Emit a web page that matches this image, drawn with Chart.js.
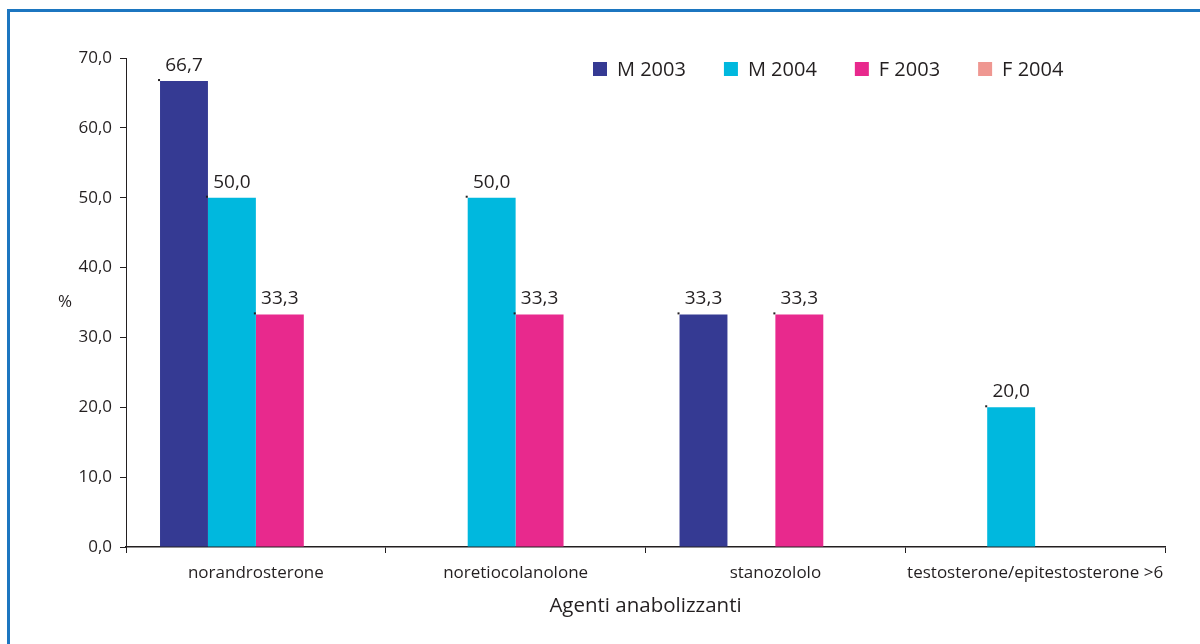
<!DOCTYPE html>
<html>
<head>
<meta charset="utf-8">
<script src="https://cdn.jsdelivr.net/npm/chart.js@4/dist/chart.umd.min.js"></script>
<style>
  html, body { margin: 0; padding: 0; background: #ffffff; overflow: hidden; }
  #wrap { position: relative; width: 1200px; height: 644px; }
  #frame {
    position: absolute; left: 7px; top: 9px; width: 1400px; height: 900px;
    border: 3px solid #1c76c0; box-sizing: border-box; pointer-events: none;
  }
  canvas { position: absolute; left: 0; top: 0; }
</style>
</head>
<body>
<div id="wrap">
  <canvas id="chart" width="1200" height="644"></canvas>
  <div id="frame"></div>
</div>
<script>
// Categories (anabolic agents) and percentage per group
const categories = ['norandrosterone', 'noretiocolanolone', 'stanozololo', 'testosterone/epitestosterone >6'];
const m2003 = [66.7, 0, 33.3, 0];
const m2004 = [50.0, 50.0, 0, 20.0];
const f2003 = [33.3, 33.3, 33.3, 0];
const f2004 = [0, 0, 0, 0];
const seriesNames = ['M 2003', 'M 2004', 'F 2003', 'F 2004'];
const seriesColors = ['#353a93', '#00b8de', '#e8298d', '#ef9791'];
const yTicks = [0, 10, 20, 30, 40, 50, 60, 70];
const xTitle = 'Agenti anabolizzanti';
const yTitle = '%';

const FONT = "'Open Sans', 'Noto Sans', sans-serif";
const INK = '#231f20';
const fmt = v => v.toFixed(1).replace('.', ',');

// Value labels above each bar, with the small leader tick at the bar corner
const valueLabels = {
  id: 'valueLabels',
  afterDatasetsDraw(chart) {
    const ctx = chart.ctx;
    ctx.save();
    ctx.fillStyle = INK;
    ctx.font = '19px ' + FONT;
    ctx.textAlign = 'center';
    ctx.textBaseline = 'alphabetic';
    chart.data.datasets.forEach((ds, di) => {
      const meta = chart.getDatasetMeta(di);
      meta.data.forEach((bar, i) => {
        const v = ds.data[i];
        if (!v) return;
        const left = bar.x - bar.width / 2;
        ctx.fillRect(left - 2, bar.y - 2, 2, 2);
        ctx.fillText(fmt(v), bar.x, bar.y - 10);
      });
    });
    ctx.restore();
  }
};

// Legend row, axis titles
const decorations = {
  id: 'decorations',
  afterDraw(chart) {
    const ctx = chart.ctx;
    const area = chart.chartArea;
    ctx.save();
    ctx.fillStyle = INK;
    // y title, horizontal
    ctx.font = '17px ' + FONT;
    ctx.textAlign = 'center';
    ctx.textBaseline = 'middle';
    ctx.fillText(yTitle, 65, 302);
    // x title
    ctx.font = '20.5px ' + FONT;
    ctx.fillText(xTitle, (area.left + area.right) / 2, 606);
    // legend
    ctx.font = '20px ' + FONT;
    ctx.textAlign = 'left';
    let x = 593;
    const cy = 69;
    const box = 14;
    chart.data.datasets.forEach(ds => {
      ctx.fillStyle = ds.backgroundColor;
      ctx.fillRect(x, cy - box / 2, box, box);
      ctx.fillStyle = INK;
      const tx = x + box + 10;
      ctx.fillText(ds.label, tx, cy + 1);
      x = tx + ctx.measureText(ds.label).width + 38;
    });
    ctx.restore();
  }
};

const seriesData = [m2003, m2004, f2003, f2004];

new Chart(document.getElementById('chart'), {
  type: 'bar',
  data: {
    labels: categories,
    datasets: seriesNames.map((name, k) => ({
      label: name,
      data: seriesData[k],
      backgroundColor: seriesColors[k],
      borderWidth: 0,
      categoryPercentage: 0.738,
      barPercentage: 1.0
    }))
  },
  options: {
    responsive: false,
    animation: false,
    devicePixelRatio: 1,
    layout: { padding: { left: 0, right: 35, top: 58, bottom: 0 } },
    plugins: { legend: { display: false }, tooltip: { enabled: false } },
    scales: {
      x: {
        offset: true,
        grid: { offset: true, drawOnChartArea: false, drawTicks: true, tickLength: 6, color: INK, lineWidth: 1 },
        border: { display: true, color: INK, width: 1.5 },
        ticks: { color: INK, font: { family: FONT, size: 17 }, padding: 10, maxRotation: 0, autoSkip: false },
        afterFit(scale) { scale.height = 97; }
      },
      y: {
        min: 0, max: 70,
        afterBuildTicks(scale) { scale.ticks = yTicks.map(v => ({ value: v })); },
        grid: { drawOnChartArea: false, drawTicks: true, tickLength: 6, color: INK, lineWidth: 1 },
        border: { display: true, color: INK, width: 1 },
        ticks: { color: INK, font: { family: FONT, size: 17 }, padding: 8, callback: v => fmt(v) },
        afterFit(scale) { scale.width = 126; }
      }
    }
  },
  plugins: [valueLabels, decorations]
});
</script>
</body>
</html>
